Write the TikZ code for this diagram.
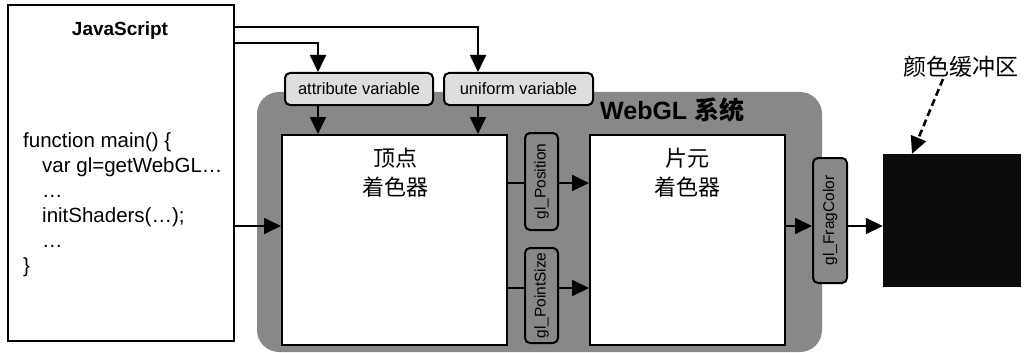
\documentclass[tikz,border=0pt]{standalone}
\usepackage{fontspec}
\setmainfont{Liberation Sans}
\newfontfamily\cjk{Noto Sans CJK SC}
\usetikzlibrary{arrows.meta}
\definecolor{sysgray}{RGB}{136,136,136}
\definecolor{tagfill}{RGB}{222,222,222}
\definecolor{bufblack}{RGB}{12,12,12}
\tikzset{
  panel/.style={draw=black, line width=2pt, fill=white, inner sep=0pt},
  tag/.style={draw=black, line width=2pt, rounded corners=5pt, fill=tagfill,
    inner sep=0pt, font=\fontsize{16.5}{19}\selectfont},
  outtag/.style={tag, fill=sysgray, rotate=90, font=\fontsize{15.5}{18}\selectfont},
  arr/.style={line width=1.8pt, -{Triangle[length=17pt,width=16pt]}},
  link/.style={line width=1.8pt},
  code/.style={anchor=base west, inner sep=0pt, font=\fontsize{20.5}{25}\selectfont},
  cjklabel/.style={align=center, inner sep=0pt, font=\cjk\fontsize{22}{29}\selectfont},
}
\begin{document}
\begin{tikzpicture}[x=1pt,y=-1pt]
\useasboundingbox (0,0) rectangle (1026,353);

% WebGL system background
\node[fill=sysgray, rounded corners=22pt, minimum width=565pt, minimum height=260pt, inner sep=0pt]
  (sys) at (539.5,222) {};
\node[anchor=base west, inner sep=0pt, font=\fontsize{25}{28}\selectfont\bfseries]
  (systitle) at (600,119) {WebGL {\cjk 系统}};

% JavaScript program
\node[panel, minimum width=226pt, minimum height=336pt] (js) at (121,173) {};
\node[anchor=base, inner sep=0pt, font=\fontsize{19}{22}\selectfont\bfseries] (jstitle) at (120,36) {JavaScript};
\node[code] (l1) at (23,147) {function main() \{};
\node[code] (l2) at (42,172) {var gl=getWebGL…};
\node[code] (l3) at (42,197) {…};
\node[code] (l4) at (42,222) {initShaders(…);};
\node[code] (l5) at (42,247) {…};
\node[code] (l6) at (23,272) {\}};

% shader stages
\node[panel, minimum width=225pt, minimum height=210pt] (vs) at (394.5,240) {};
\node[cjklabel] (vslabel) at (395,172.5) {顶点\\着色器};
\node[panel, minimum width=195pt, minimum height=210pt] (fs) at (687.5,240) {};
\node[cjklabel] (fslabel) at (687,172.5) {片元\\着色器};

% variables
\node[tag, minimum width=148pt, minimum height=32pt] (attr) at (359,89) {attribute variable};
\node[tag, minimum width=149pt, minimum height=32pt] (unif) at (518.5,89) {uniform variable};
\node[outtag, minimum width=97pt, minimum height=33pt] (glpos) at (541.5,181.5) {gl\_Position};
\node[outtag, minimum width=95pt, minimum height=33pt] (glps) at (541.5,295.5) {gl\_PointSize};
\node[outtag, minimum width=125pt, minimum height=34pt] (glfc) at (830,220.5) {gl\_FragColor};

% colour buffer
\node[fill=bufblack, minimum width=138pt, minimum height=133pt, inner sep=0pt] (cb) at (952,220.5) {};
\node[inner sep=0pt, font=\cjk\fontsize{23}{26}\selectfont] (cblabel) at (961,67) {颜色缓冲区};
\coordinate (cbfrom) at (943,79);

% connectors (rotated tags: north is their left side, south their right side)
\draw[arr] (js.east |- 0,27) -| (478,0 |- unif.north);
\draw[arr] (js.east |- 0,43) -| (318,0 |- attr.north);
\draw[arr] (318,0 |- attr.south) -- (318,0 |- vs.north);
\draw[arr] (478,0 |- unif.south) -- (478,0 |- vs.north);
\draw[arr] (js.east |- 0,226) -- (vs.west |- 0,226);
\draw[link] (vs.east |- 0,183) -- (glpos.north |- 0,183);
\draw[arr] (glpos.south |- 0,183) -- (fs.west |- 0,183);
\draw[link] (vs.east |- 0,288) -- (glps.north |- 0,288);
\draw[arr] (glps.south |- 0,288) -- (fs.west |- 0,288);
\draw[arr] (fs.east |- 0,226) -- (glfc.north |- 0,226);
\draw[arr] (glfc.south |- 0,226) -- (cb.west |- 0,226);
\draw[line width=2.6pt, dash pattern=on 7pt off 4pt, -{Triangle[length=17pt,width=16pt]}]
  (cbfrom) -- (912,0 |- cb.north) ;
\end{tikzpicture}
\end{document}
